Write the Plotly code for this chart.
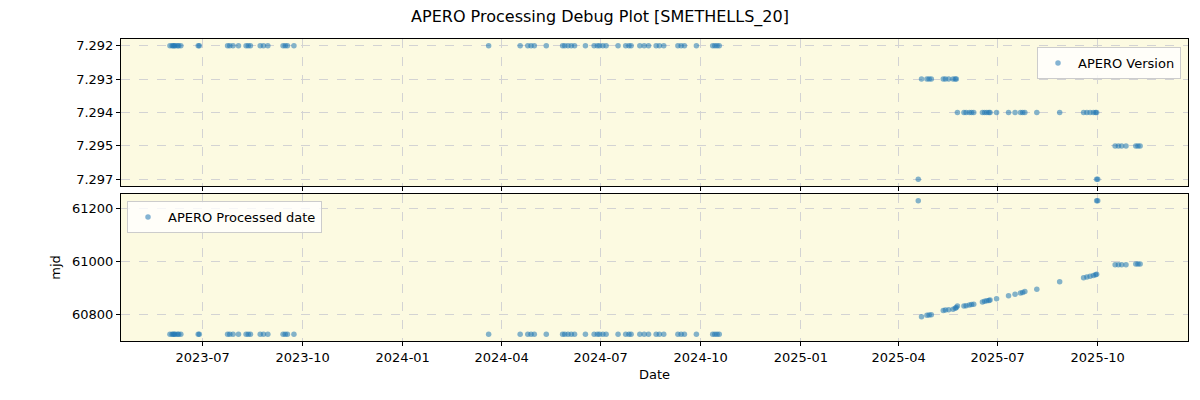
import plotly.graph_objects as go

# ---------------- data ----------------
early_dates = [
    "2023-06-01", "2023-06-03", "2023-06-04", "2023-06-05", "2023-06-06", "2023-06-08", "2023-06-09", "2023-06-11",
    "2023-06-27", "2023-06-28",
    "2023-07-24", "2023-07-26", "2023-07-29", "2023-08-03", "2023-08-10", "2023-08-12", "2023-08-14",
    "2023-08-23", "2023-08-26", "2023-08-30",
    "2023-09-13", "2023-09-15", "2023-09-17", "2023-09-23",
    "2024-03-20", "2024-04-18", "2024-04-25", "2024-04-28", "2024-05-01", "2024-05-12",
    "2024-05-27", "2024-05-29", "2024-06-01", "2024-06-04", "2024-06-07", "2024-06-17",
    "2024-06-25", "2024-06-28", "2024-06-30", "2024-07-03", "2024-07-06", "2024-07-17",
    "2024-07-24", "2024-07-27", "2024-07-29", "2024-08-06", "2024-08-10", "2024-08-14",
    "2024-08-21", "2024-08-24", "2024-08-28", "2024-09-10", "2024-09-13", "2024-09-16", "2024-09-27",
    "2024-10-12", "2024-10-14", "2024-10-16", "2024-10-18",
]
early_version = "7.292"
early_processed = 60723

late_dates = [
    "2025-04-19", "2025-04-22", "2025-04-27", "2025-04-29", "2025-05-01",
    "2025-05-12", "2025-05-14", "2025-05-17", "2025-05-21", "2025-05-23", "2025-05-24",
    "2025-05-25", "2025-05-31", "2025-06-02", "2025-06-05", "2025-06-07", "2025-06-09",
    "2025-06-17", "2025-06-19", "2025-06-21", "2025-06-23", "2025-06-24", "2025-06-30",
    "2025-07-11", "2025-07-17", "2025-07-22", "2025-07-24", "2025-07-26",
    "2025-08-06", "2025-08-27",
    "2025-09-18", "2025-09-21", "2025-09-24", "2025-09-27", "2025-09-29", "2025-09-30",
    "2025-09-30", "2025-10-01",
    "2025-10-17", "2025-10-20", "2025-10-23", "2025-10-27",
    "2025-11-05", "2025-11-07", "2025-11-09",
]
late_versions = [
    "7.297", "7.293", "7.293", "7.293", "7.293",
    "7.293", "7.293", "7.293", "7.293", "7.293", "7.293",
    "7.294", "7.294", "7.294", "7.294", "7.294", "7.294",
    "7.294", "7.294", "7.294", "7.294", "7.294", "7.294",
    "7.294", "7.294", "7.294", "7.294", "7.294",
    "7.294", "7.294",
    "7.294", "7.294", "7.294", "7.294", "7.294", "7.294",
    "7.297", "7.297",
    "7.295", "7.295", "7.295", "7.295",
    "7.295", "7.295", "7.295",
]
late_processed = [
    61230, 60790, 60795, 60796, 60797,
    60813, 60815, 60816, 60818, 60822, 60825,
    60830, 60830, 60831, 60834, 60836, 60837,
    60846, 60848, 60850, 60851, 60853, 60858,
    60869, 60875, 60880, 60882, 60885,
    60894, 60922,
    60938, 60940, 60943, 60946, 60949, 60951,
    61230, 61230,
    60987, 60987, 60987, 60987,
    60990, 60990, 60990,
]

version_order = ["7.297", "7.295", "7.294", "7.293", "7.292"]  # bottom -> top
mjd_ticks = [60800, 61000, 61200]
x_range = ["2023-04-17", "2025-12-23"]

obs_dates = early_dates + late_dates
versions = [early_version] * len(early_dates) + late_versions
processed = [early_processed] * len(early_dates) + late_processed

# ---------------- styling ----------------
FONT = "DejaVu Sans"
BLUE = "#1f77b4"
BG = "#fcfae1"
GRID = "#d3d3d3"

fig = go.Figure()

fig.add_trace(go.Scatter(
    x=obs_dates, y=versions, mode="markers", name="APERO Version",
    marker=dict(color=BLUE, size=5.5, opacity=0.55, line=dict(width=0)),
    xaxis="x", yaxis="y", legend="legend",
))
fig.add_trace(go.Scatter(
    x=obs_dates, y=processed, mode="markers", name="APERO Processed date",
    marker=dict(color=BLUE, size=5.5, opacity=0.55, line=dict(width=0)),
    xaxis="x2", yaxis="y2", legend="legend2",
))

common_x = dict(
    type="date", range=x_range, dtick="M3", tick0="2023-01-01", tickformat="%Y-%m",
    showgrid=True, gridcolor=GRID, griddash="dash", gridwidth=1,
    showline=True, linecolor="black", linewidth=1, mirror=True,
    ticks="outside", ticklen=4, tickcolor="black", zeroline=False,
)
common_y = dict(
    showgrid=True, gridcolor=GRID, griddash="dash", gridwidth=1,
    showline=True, linecolor="black", linewidth=1, mirror=True,
    ticks="outside", ticklen=4, tickcolor="black", zeroline=False,
)

top_dom = [1 - 147 / 302, 1.0]
bot_dom = [0.0, 147 / 302]

fig.update_layout(
    width=1200, height=400,
    margin=dict(l=121, r=12, t=39, b=59),
    paper_bgcolor="white", plot_bgcolor=BG,
    font=dict(family=FONT, size=13, color="black"),
    showlegend=True,
    title=dict(text="APERO Processing Debug Plot [SMETHELLS_20]", x=0.5, xref="container",
               xanchor="center", y=1 - 16 / 400, yref="container", yanchor="middle",
               font=dict(family=FONT, size=16, color="black")),
    xaxis=dict(common_x, anchor="y", domain=[0, 1], showticklabels=False, matches="x2"),
    yaxis=dict(common_y, anchor="x", domain=top_dom, type="category",
               categoryorder="array", categoryarray=version_order, range=[-0.2, 4.2]),
    xaxis2=dict(common_x, anchor="y2", domain=[0, 1],
                title=dict(text="Date", standoff=6, font=dict(family=FONT, size=13))),
    yaxis2=dict(common_y, anchor="x2", domain=bot_dom, range=[60697.6, 61255.4],
                tickvals=mjd_ticks, ticktext=[str(v) for v in mjd_ticks],
                title=dict(text="mjd", standoff=8, font=dict(family=FONT, size=13))),
    legend=dict(x=(1181 - 121) / 1067, y=(341 - 47) / 302, xanchor="right", yanchor="top",
                bgcolor="rgba(255,255,255,0.8)", bordercolor="#cccccc", borderwidth=1,
                font=dict(family=FONT, size=13)),
    legend2=dict(x=(127 - 121) / 1067, y=(341 - 201) / 302, xanchor="left", yanchor="top",
                 bgcolor="rgba(255,255,255,0.8)", bordercolor="#cccccc", borderwidth=1,
                 font=dict(family=FONT, size=13)),
    hovermode=False,
)

fig.write_html("out.html")
